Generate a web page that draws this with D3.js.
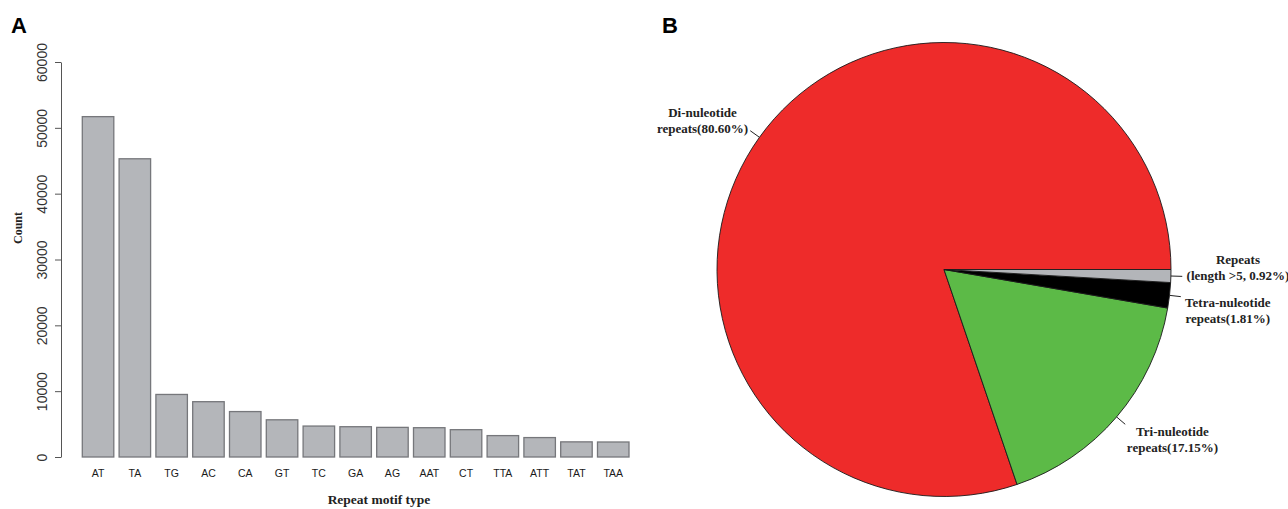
<!DOCTYPE html>
<html>
<head>
<meta charset="utf-8">
<script src="https://cdn.jsdelivr.net/npm/d3@7"></script>
<style>
  body { margin: 0; background: #fff; }
  svg { display: block; }
</style>
</head>
<body>
<svg id="chart" width="1288" height="509"></svg>
<script>
// Panel A: counts of the most frequent repeat motifs
const motifs = ["AT", "TA", "TG", "AC", "CA", "GT", "TC", "GA", "AG", "AAT", "CT", "TTA", "ATT", "TAT", "TAA"];
const motifCounts = [51700, 45300, 9500, 8400, 6900, 5650, 4700, 4600, 4500, 4450, 4150, 3250, 2950, 2300, 2280];
const countTicks = [0, 10000, 20000, 30000, 40000, 50000, 60000];

// Panel B: share of repeat classes (percent)
const repeatClasses = ["Di", "Tri", "Tetra", "Long"];
const classShares = [80.60, 17.15, 1.81, 0.92];
const classLabels = [
  ["Di-nuleotide", "repeats(80.60%)"],
  ["Tri-nuleotide", "repeats(17.15%)"],
  ["Tetra-nuleotide", "repeats(1.81%)"],
  ["Repeats", "(length >5, 0.92%)"]
];

// styling / layout
const classColors = ["#ee2b2a", "#5cba47", "#000000", "#b3b5b9"];
const labelShiftY = [-4, 8, 12.6, -9.5];

const svg = d3.select("#chart");
const serif = "'Liberation Serif', 'Times New Roman', serif";
const sans = "'Liberation Sans', Arial, sans-serif";

// ---------- Panel A ----------
const x = d3.scaleBand().domain(motifs).range([82.3, 629]).paddingInner(0.144).paddingOuter(0);
const y = d3.scaleLinear().domain([0, 60000]).range([457, 62]);

const gA = svg.append("g");

gA.selectAll("rect.bar")
  .data(motifs.map((m, i) => ({ m, v: motifCounts[i] })))
  .join("rect")
  .attr("class", "bar")
  .attr("x", d => x(d.m))
  .attr("y", d => y(d.v))
  .attr("width", x.bandwidth())
  .attr("height", d => y(0) - y(d.v))
  .attr("fill", "#b4b6ba")
  .attr("stroke", "#76777b")
  .attr("stroke-width", 1.3);

const yAxis = gA.append("g")
  .attr("transform", "translate(61,0)")
  .call(d3.axisLeft(y).tickValues(countTicks).tickFormat(d3.format("d")).tickSize(6).tickSizeOuter(0));
yAxis.select(".domain").attr("stroke", "#555").attr("stroke-width", 1);
yAxis.selectAll(".tick line").attr("stroke", "#555");
yAxis.selectAll(".tick text")
  .attr("x", null).attr("dy", null)
  .attr("transform", "translate(-14.5,0) rotate(-90)")
  .attr("text-anchor", "middle")
  .attr("font-family", sans)
  .attr("font-size", 14)
  .attr("fill", "#333");

const xAxis = gA.append("g")
  .attr("transform", "translate(0,470)")
  .call(d3.axisBottom(x).tickSize(0).tickPadding(0));
xAxis.select(".domain").remove();
xAxis.selectAll(".tick text")
  .attr("font-family", sans)
  .attr("font-size", 10.5)
  .attr("fill", "#1a1a1a");

gA.append("text")
  .attr("x", 379).attr("y", 504)
  .attr("text-anchor", "middle")
  .attr("font-family", serif).attr("font-weight", "bold").attr("font-size", 13.5)
  .attr("fill", "#222")
  .text("Repeat motif type");

gA.append("text")
  .attr("transform", "translate(22,228) rotate(-90)")
  .attr("text-anchor", "middle")
  .attr("font-family", serif).attr("font-weight", "bold").attr("font-size", 12)
  .attr("fill", "#222")
  .text("Count");

svg.append("text")
  .attr("x", 11).attr("y", 33)
  .attr("font-family", sans).attr("font-weight", "bold").attr("font-size", 22)
  .text("A");

// ---------- Panel B ----------
const cx = 944, cy = 269.5, R = 227;
const pie = d3.pie().sort(null).value(d => d.v)
  .startAngle(Math.PI / 2).endAngle(Math.PI / 2 - 2 * Math.PI);
const arcs = pie(repeatClasses.map((k, i) => ({ k, v: classShares[i], i })));
const arc = d3.arc().innerRadius(0).outerRadius(R);

const gB = svg.append("g").attr("transform", `translate(${cx},${cy})`);

gB.selectAll("path.slice")
  .data(arcs)
  .join("path")
  .attr("class", "slice")
  .attr("d", arc)
  .attr("fill", d => classColors[d.data.i])
  .attr("stroke", "#1a1a1a")
  .attr("stroke-width", 0.9)
  .attr("stroke-linejoin", "round");

arcs.forEach(d => {
  const a = (d.startAngle + d.endAngle) / 2;
  const sx = Math.sin(a), sy = -Math.cos(a);
  gB.append("line")
    .attr("x1", sx * R).attr("y1", sy * R)
    .attr("x2", sx * R * 1.05).attr("y2", sy * R * 1.05)
    .attr("stroke", "#222").attr("stroke-width", 1);

  const ax = sx * R * 1.1, ay = sy * R * 1.1 + labelShiftY[d.data.i];
  const lines = classLabels[d.data.i];
  const lh = 16;
  const t = gB.append("text")
    .attr("font-family", serif).attr("font-weight", "bold").attr("font-size", 13)
    .attr("fill", "#222")
    .attr("text-anchor", "middle");
  const spans = lines.map((s, j) => t.append("tspan")
    .attr("y", ay + (j - (lines.length - 1) / 2) * lh)
    .attr("dy", "0.35em")
    .text(s));
  const w = d3.max(spans, sp => sp.node().getComputedTextLength());
  const mid = sx < 0 ? ax + 7 - w / 2 : ax - 7 + w / 2;
  spans.forEach(sp => sp.attr("x", mid));
});

svg.append("text")
  .attr("x", 662).attr("y", 33)
  .attr("font-family", sans).attr("font-weight", "bold").attr("font-size", 22)
  .text("B");
</script>
</body>
</html>
